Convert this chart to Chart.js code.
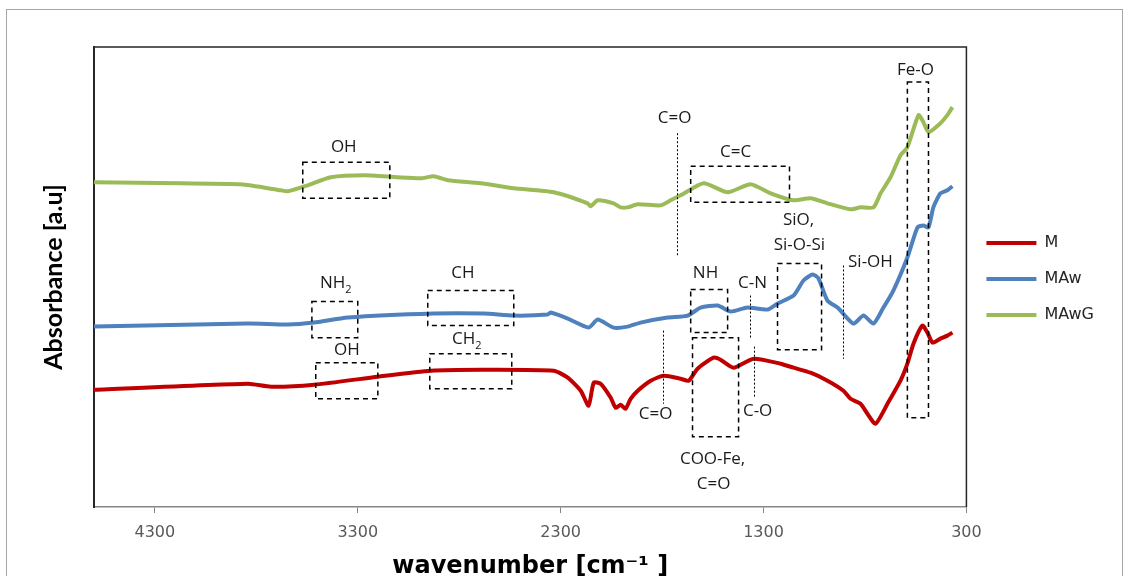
<!DOCTYPE html>
<html>
<head>
<meta charset="utf-8">
<script src="https://cdn.jsdelivr.net/npm/chart.js@4.4.1/dist/chart.umd.min.js"></script>
<style>
  html, body { margin: 0; padding: 0; background: #fff; }
  #wrap { width: 1129px; height: 576px; position: relative; }
</style>
</head>
<body>
<div id="wrap"><canvas id="ftir"></canvas></div>
<script>
// x: wavenumber [cm-1], y: absorbance [a.u.] (arbitrary offsets)
const seriesNames = ['M', 'MAw', 'MAwG'];
const seriesColors = ['#C00000', '#4F81BD', '#9BBB59'];
const tickValues = [300, 1300, 2300, 3300, 4300];

const mWave = [4600, 3841, 3728, 3516, 3201, 2940, 2694, 2334, 2265, 2201, 2162, 2137, 2103, 2053, 2029,
  2004, 1980, 1955, 1920, 1856, 1792, 1709, 1669, 1625, 1546, 1512, 1448, 1349, 1216, 1152,
  1068, 985, 906, 871, 822, 788, 748, 689, 625, 591, 561, 517, 492, 467, 428, 394, 369];
const mAbs = [1.17, 1.23, 1.20, 1.22, 1.30, 1.36, 1.37, 1.36, 1.29, 1.16, 1.01, 1.24, 1.23, 1.09, 0.99,
  1.02, 0.98, 1.08, 1.16, 1.26, 1.31, 1.28, 1.26, 1.38, 1.49, 1.47, 1.39, 1.48, 1.43, 1.39,
  1.34, 1.26, 1.16, 1.08, 1.03, 0.93, 0.83, 1.03, 1.26, 1.43, 1.63, 1.81, 1.74, 1.64, 1.68, 1.71, 1.74];

const mawWave = [4600, 3841, 3644, 3516, 3349, 2925, 2679, 2531, 2364, 2349, 2265, 2162, 2117, 2039, 1970,
  1906, 1773, 1674, 1610, 1526, 1462, 1379, 1280, 1231, 1152, 1103, 1058, 1029, 985, 935,
  857, 807, 758, 709, 660, 591, 541, 512, 487, 463, 428, 394, 369];
const mawAbs = [1.80, 1.83, 1.82, 1.84, 1.89, 1.93, 1.93, 1.91, 1.92, 1.94, 1.88, 1.79, 1.87, 1.79, 1.80,
  1.84, 1.89, 1.91, 1.99, 2.01, 1.95, 1.99, 1.97, 2.03, 2.11, 2.26, 2.32, 2.28, 2.06, 1.99,
  1.83, 1.91, 1.83, 1.99, 2.16, 2.49, 2.79, 2.81, 2.79, 2.99, 3.13, 3.16, 3.20];

const mawgWave = [4600, 4171, 3876, 3679, 3644, 3546, 3433, 3270, 3103, 2989, 2925, 2856, 2694, 2531, 2334,
  2167, 2152, 2117, 2039, 2004, 1970, 1920, 1807, 1758, 1709, 1595, 1477, 1364, 1265, 1152,
  1068, 985, 871, 822, 758, 723, 674, 625, 591, 536, 512, 487, 428, 394, 369];
const mawgAbs = [3.24, 3.23, 3.22, 3.16, 3.15, 3.21, 3.29, 3.31, 3.29, 3.28, 3.30, 3.26, 3.23, 3.18, 3.14,
  3.03, 3.00, 3.06, 3.03, 2.99, 2.99, 3.02, 3.01, 3.06, 3.11, 3.23, 3.14, 3.22, 3.13, 3.06,
  3.08, 3.03, 2.97, 2.99, 2.99, 3.13, 3.29, 3.51, 3.59, 3.91, 3.84, 3.74, 3.83, 3.91, 3.99];

// band assignments, in wavenumber / absorbance units
const groupBoxes = [
  { from: 3571, to: 3142, top: 3.44, bottom: 3.08 },  // OH (MAwG)
  { from: 3526, to: 3300, top: 2.05, bottom: 1.69 },  // NH2
  { from: 3507, to: 3201, top: 1.44, bottom: 1.08 },  // OH (M)
  { from: 2955, to: 2531, top: 2.16, bottom: 1.81 },  // CH
  { from: 2945, to: 2541, top: 1.53, bottom: 1.18 },  // CH2
  { from: 1659, to: 1172, top: 3.40, bottom: 3.04 },  // C=C
  { from: 1231, to: 1014, top: 2.43, bottom: 1.57 },  // SiO, Si-O-Si
  { from: 591, to: 487, top: 4.24, bottom: 0.89 },    // Fe-O
  { from: 1659, to: 1477, top: 2.17, bottom: 1.74 },  // NH
  { from: 1650, to: 1423, top: 1.69, bottom: 0.70 }   // COO-Fe, C=O
];
const markerLines = [
  { at: 1728, top: 3.73, bottom: 2.51 },  // C=O (MAwG)
  { at: 906, top: 2.41, bottom: 1.48 },   // Si-OH
  { at: 1369, top: 2.11, bottom: 1.69 },  // C-N
  { at: 1797, top: 1.76, bottom: 1.03 },  // C=O (M)
  { at: 1349, top: 1.60, bottom: 1.08 }   // C-O
];
const bandLabels = [
  { text: 'OH', at: 3369, a: 3.59 },
  { text: 'NH', sub: '2', at: 3408, a: 2.23 },
  { text: 'OH', at: 3354, a: 1.57 },
  { text: 'CH', at: 2782, a: 2.33 },
  { text: 'CH', sub: '2', at: 2763, a: 1.67 },
  { text: 'C=O', at: 1738, a: 3.88 },
  { text: 'C=C', at: 1438, a: 3.54 },
  { text: 'SiO,', at: 1127, a: 2.86 },
  { text: 'Si-O-Si', at: 1123, a: 2.61 },
  { text: 'Si-OH', at: 773, a: 2.44 },
  { text: 'Fe-O', at: 551, a: 4.36 },
  { text: 'NH', at: 1586, a: 2.33 },
  { text: 'C-N', at: 1354, a: 2.23 },
  { text: 'COO-Fe,', at: 1551, a: 0.48 },
  { text: 'C=O', at: 1546, a: 0.23 },
  { text: 'C=O', at: 1832, a: 0.93 },
  { text: 'C-O', at: 1329, a: 0.96 }
];

const toPoints = (xs, ys) => xs.map((v, i) => ({ x: v, y: ys[i] }));
const allWave = [mWave, mawWave, mawgWave];
const allAbs = [mAbs, mawAbs, mawgAbs];

const frame = {
  id: 'frame',
  beforeDraw(chart) {
    const ctx = chart.ctx;
    ctx.save();
    ctx.strokeStyle = '#a6a6a6';
    ctx.lineWidth = 1;
    ctx.strokeRect(6.5, 9.5, 1116, 600);
    ctx.restore();
  },
  afterDraw(chart) {
    const { ctx, chartArea: a } = chart;
    ctx.save();
    ctx.strokeStyle = '#262626';
    ctx.lineWidth = 1.5;
    ctx.beginPath();
    ctx.moveTo(a.left, a.top);
    ctx.lineTo(a.right, a.top);
    ctx.lineTo(a.right, a.bottom);
    ctx.stroke();
    ctx.restore();
  }
};

const bandMarks = {
  id: 'bandMarks',
  afterDatasetsDraw(chart) {
    const { ctx, scales: { x, y } } = chart;
    ctx.save();
    ctx.strokeStyle = '#000';
    ctx.lineWidth = 1.5;
    ctx.setLineDash([5, 4]);
    groupBoxes.forEach(b => {
      const x1 = x.getPixelForValue(b.from), x2 = x.getPixelForValue(b.to);
      const y1 = y.getPixelForValue(b.top), y2 = y.getPixelForValue(b.bottom);
      ctx.strokeRect(x1, y1, x2 - x1, y2 - y1);
    });
    ctx.lineWidth = 1;
    ctx.setLineDash([2, 2]);
    markerLines.forEach(l => {
      const px = Math.round(x.getPixelForValue(l.at)) + 0.5;
      ctx.beginPath();
      ctx.moveTo(px, y.getPixelForValue(l.top));
      ctx.lineTo(px, y.getPixelForValue(l.bottom));
      ctx.stroke();
    });
    ctx.setLineDash([]);
    ctx.fillStyle = '#1a1a1a';
    ctx.textBaseline = 'middle';
    ctx.textAlign = 'left';
    bandLabels.forEach(l => {
      const px = x.getPixelForValue(l.at), py = y.getPixelForValue(l.a);
      ctx.font = '17px "Open Sans"';
      const w1 = ctx.measureText(l.text).width;
      let w2 = 0;
      if (l.sub) {
        ctx.font = '11px "Open Sans"';
        w2 = ctx.measureText(l.sub).width;
      }
      const start = px - (w1 + w2) / 2;
      ctx.font = '17px "Open Sans"';
      ctx.fillText(l.text, start, py);
      if (l.sub) {
        ctx.font = '11px "Open Sans"';
        ctx.fillText(l.sub, start + w1, py + 6);
      }
    });
    ctx.restore();
  }
};

new Chart(document.getElementById('ftir'), {
  type: 'line',
  data: {
    datasets: seriesNames.map((name, i) => ({
      label: name,
      data: toPoints(allWave[i], allAbs[i]),
      borderColor: seriesColors[i],
      backgroundColor: seriesColors[i],
      borderWidth: 4,
      pointRadius: 0,
      tension: 0.2,
      fill: false
    }))
  },
  options: {
    responsive: true,
    maintainAspectRatio: false,
    animation: false,
    layout: { padding: { left: 35, top: 47, right: 25, bottom: -5 } },
    plugins: {
      tooltip: { enabled: false },
      legend: {
        position: 'right',
        align: 'start',
        // empty title only pushes the entries down to sit beside the middle spectrum
        title: { display: true, text: '', font: { size: 15 }, padding: { top: 0, bottom: 150 } },
        labels: {
          boxWidth: 50,
          boxHeight: 4,
          padding: 20,
          color: '#262626',
          font: { family: 'DejaVu Sans', size: 16 },
          generateLabels: chart => Chart.defaults.plugins.legend.labels.generateLabels(chart)
            .map(item => ({ ...item, lineWidth: 0 }))
        }
      }
    },
    scales: {
      x: {
        type: 'linear',
        reverse: true,
        min: 300,
        max: 4600,
        afterBuildTicks: scale => { scale.ticks = tickValues.map(v => ({ value: v })); },
        ticks: {
          padding: 10,
          color: '#595959',
          font: { family: 'DejaVu Sans', size: 16 },
          callback: v => v
        },
        grid: { display: true, drawOnChartArea: false, drawTicks: true, tickLength: 6, color: '#868686' },
        border: { color: '#868686', width: 1.5 },
        title: {
          display: true,
          text: 'wavenumber [cm\u207B\u00B9 ]',
          color: '#000',
          font: { family: 'DejaVu Sans', size: 24, weight: 'bold' },
          padding: { top: 0, bottom: 0 }
        }
      },
      y: {
        min: 0,
        max: 4.59,
        ticks: { display: false },
        grid: { display: false },
        border: { display: true, color: '#262626', width: 2 },
        title: {
          display: true,
          text: 'Absorbance [a.u]',
          color: '#000',
          font: { family: 'Lato', size: 25, weight: 'bold' },
          padding: { top: 4, bottom: 17 }
        }
      }
    }
  },
  plugins: [frame, bandMarks]
});
</script>
</body>
</html>
